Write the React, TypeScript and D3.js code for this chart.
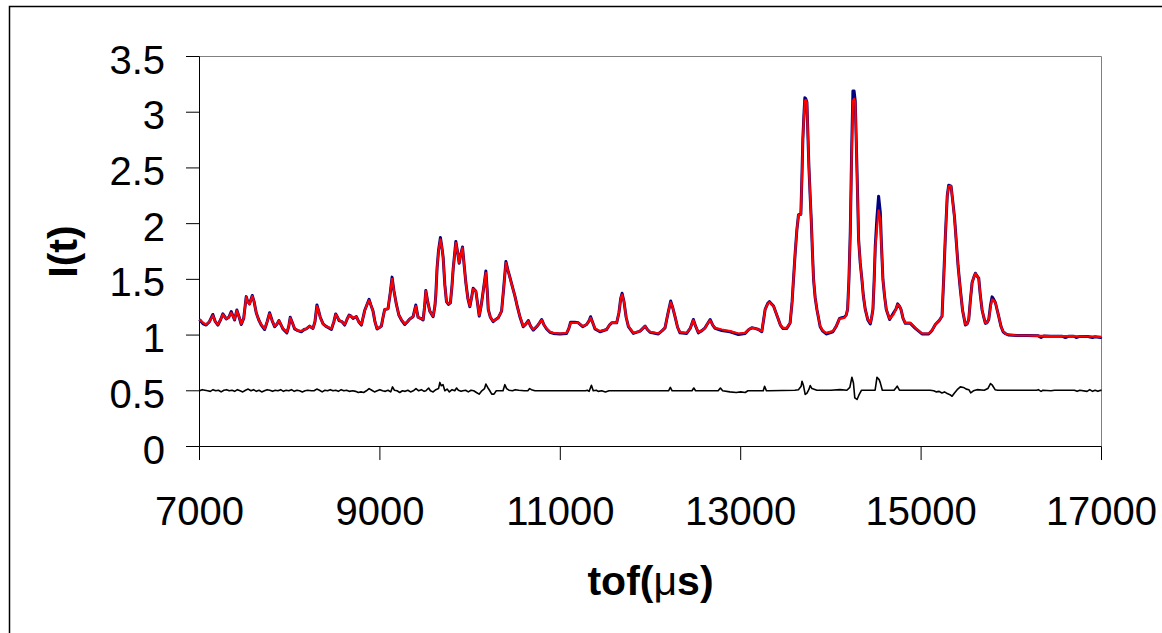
import React from 'react';
import * as d3 from 'd3';

const xTicks = [7000, 9000, 11000, 13000, 15000, 17000];
const yTicks = [0, 0.5, 1, 1.5, 2, 2.5, 3, 3.5];
const yTickLabels = ['0', '0.5', '1', '1.5', '2', '2.5', '3', '3.5'];
const xTitleParts = ['tof(', '\u03bc', 's)'];
const yTitle = 'I(t)';

const tof = [
  7000, 7040, 7074, 7110, 7148, 7175, 7204, 7235, 7259, 7296,
  7325, 7352, 7389, 7414, 7440, 7463, 7490, 7518, 7535, 7555,
  7585, 7605, 7629, 7655, 7685, 7722, 7750, 7777, 7805, 7833,
  7860, 7881, 7905, 7925, 7969, 7990, 8006, 8030, 8055, 8090,
  8129, 8160, 8184, 8221, 8258, 8280, 8302, 8320, 8339, 8370,
  8399, 8430, 8462, 8490, 8510, 8530, 8547, 8580, 8610, 8635,
  8658, 8680, 8702, 8739, 8765, 8795, 8831, 8855, 8880, 8900,
  8924, 8945, 8968, 9000, 9016, 9040, 9053, 9090, 9115, 9135,
  9155, 9183, 9210, 9239, 9276, 9305, 9331, 9368, 9398, 9423,
  9450, 9479, 9495, 9509, 9530, 9553, 9590, 9610, 9620, 9634,
  9650, 9671, 9685, 9701, 9720, 9738, 9760, 9782, 9800, 9812,
  9842, 9860, 9879, 9895, 9916, 9935, 9953, 9975, 9997, 10015,
  10034, 10064, 10085, 10101, 10120, 10138, 10158, 10175, 10190, 10201,
  10225, 10256, 10285, 10312, 10349, 10370, 10397, 10420, 10441, 10470,
  10497, 10525, 10552, 10589, 10620, 10645, 10670, 10700, 10744, 10770,
  10793, 10820, 10848, 10885, 10922, 10996, 11070, 11095, 11114, 11160,
  11200, 11248, 11292, 11320, 11336, 11360, 11385, 11440, 11514, 11545,
  11570, 11625, 11650, 11670, 11685, 11706, 11730, 11755, 11810, 11884,
  11915, 11940, 11965, 11995, 12087, 12130, 12161, 12195, 12224, 12245,
  12272, 12300, 12327, 12401, 12440, 12475, 12500, 12531, 12570, 12605,
  12630, 12661, 12690, 12716, 12790, 12882, 12975, 13049, 13090, 13123,
  13160, 13197, 13234, 13271, 13300, 13319, 13364, 13408, 13440, 13467,
  13511, 13548, 13570, 13585, 13605, 13623, 13641, 13667, 13680, 13689,
  13700, 13711, 13722, 13734, 13745, 13756, 13770, 13782, 13795, 13808,
  13825, 13845, 13881, 13910, 13948, 14022, 14060, 14096, 14120, 14148,
  14170, 14185, 14200, 14215, 14230, 14244, 14257, 14270, 14285, 14300,
  14307, 14325, 14344, 14360, 14381, 14410, 14437, 14450, 14466, 14480,
  14492, 14510, 14529, 14548, 14560, 14577, 14595, 14614, 14651, 14695,
  14720, 14740, 14760, 14777, 14800, 14825, 14881, 14936, 15010, 15084,
  15120, 15158, 15200, 15232, 15250, 15269, 15290, 15306, 15320, 15332,
  15354, 15370, 15391, 15410, 15435, 15460, 15491, 15510, 15528, 15545,
  15565, 15585, 15602, 15620, 15639, 15655, 15676, 15695, 15713, 15730,
  15750, 15770, 15787, 15805, 15824, 15845, 15861, 15885, 15909, 15940,
  15972, 16065, 16175, 16300, 16330, 16360, 16435, 16560, 16600, 16640,
  16694, 16720, 16760, 16850, 16900, 16930, 16990, 17000,
];

const fitted = [
  1.14, 1.11, 1.095, 1.12, 1.176, 1.12, 1.095, 1.14, 1.185, 1.145,
  1.16, 1.20, 1.14, 1.22, 1.16, 1.10, 1.15, 1.34, 1.30, 1.275,
  1.35, 1.30, 1.20, 1.14, 1.095, 1.056, 1.12, 1.193, 1.13, 1.08,
  1.10, 1.13, 1.09, 1.06, 1.026, 1.08, 1.155, 1.11, 1.06, 1.04,
  1.035, 1.05, 1.056, 1.08, 1.06, 1.12, 1.26, 1.22, 1.155, 1.10,
  1.08, 1.07, 1.056, 1.12, 1.185, 1.16, 1.135, 1.12, 1.095, 1.14,
  1.176, 1.17, 1.155, 1.165, 1.12, 1.095, 1.215, 1.27, 1.313, 1.27,
  1.215, 1.12, 1.06, 1.07, 1.08, 1.18, 1.23, 1.235, 1.38, 1.505,
  1.40, 1.275, 1.18, 1.14, 1.10, 1.12, 1.145, 1.165, 1.26, 1.16,
  1.15, 1.14, 1.25, 1.394, 1.30, 1.215, 1.17, 1.26, 1.364, 1.603,
  1.75, 1.858, 1.80, 1.693, 1.45, 1.30, 1.28, 1.29, 1.45, 1.59,
  1.828, 1.75, 1.649, 1.72, 1.783, 1.62, 1.469, 1.33, 1.26, 1.33,
  1.415, 1.394, 1.27, 1.176, 1.25, 1.35, 1.47, 1.559, 1.40, 1.23,
  1.16, 1.125, 1.14, 1.155, 1.215, 1.40, 1.649, 1.58, 1.514, 1.43,
  1.35, 1.25, 1.17, 1.08, 1.10, 1.125, 1.08, 1.05, 1.08, 1.11,
  1.135, 1.09, 1.06, 1.03, 1.02, 1.014, 1.02, 1.06, 1.11, 1.11,
  1.11, 1.08, 1.095, 1.13, 1.155, 1.11, 1.06, 1.035, 1.05, 1.09,
  1.11, 1.11, 1.20, 1.33, 1.364, 1.30, 1.16, 1.08, 1.02, 1.035,
  1.06, 1.08, 1.05, 1.03, 1.014, 1.04, 1.065, 1.20, 1.295, 1.25,
  1.169, 1.07, 1.026, 1.02, 1.06, 1.133, 1.08, 1.026, 1.04, 1.062,
  1.10, 1.133, 1.09, 1.065, 1.05, 1.035, 1.014, 1.02, 1.05, 1.065,
  1.06, 1.05, 1.035, 1.23, 1.28, 1.295, 1.26, 1.163, 1.09, 1.065,
  1.065, 1.109, 1.30, 1.497, 1.75, 1.946, 2.08, 2.08, 2.45, 2.743,
  2.95, 3.10, 3.11, 3.087, 2.80, 2.516, 2.25, 2.037, 1.75, 1.497,
  1.34, 1.23, 1.08, 1.04, 1.02, 1.035, 1.08, 1.146, 1.15, 1.154,
  1.18, 1.23, 1.50, 1.918, 2.60, 3.10, 3.12, 3.087, 2.60, 2.10,
  1.86, 1.65, 1.497, 1.35, 1.23, 1.14, 1.109, 1.15, 1.23, 1.50,
  1.78, 1.95, 2.12, 2.03, 1.80, 1.497, 1.35, 1.23, 1.146, 1.185,
  1.23, 1.274, 1.26, 1.23, 1.15, 1.109, 1.109, 1.065, 1.014, 1.014,
  1.04, 1.095, 1.13, 1.169, 1.50, 1.887, 2.25, 2.336, 2.34, 2.336,
  2.172, 2.05, 1.828, 1.62, 1.409, 1.22, 1.095, 1.10, 1.139, 1.30,
  1.469, 1.52, 1.553, 1.53, 1.51, 1.37, 1.23, 1.16, 1.109, 1.11,
  1.139, 1.25, 1.319, 1.31, 1.29, 1.22, 1.169, 1.08, 1.035, 1.01,
  1.005, 0.996, 0.996, 0.993, 0.993, 0.992, 0.99, 0.99, 0.99, 0.99,
  0.99, 0.988, 0.988, 0.987, 0.986, 0.985, 0.984, 0.984,
];

const measured = [
  1.14, 1.10, 1.09, 1.12, 1.185, 1.12, 1.09, 1.14, 1.19, 1.145,
  1.16, 1.21, 1.135, 1.225, 1.16, 1.095, 1.15, 1.345, 1.30, 1.28,
  1.355, 1.30, 1.20, 1.14, 1.09, 1.05, 1.12, 1.20, 1.13, 1.075,
  1.10, 1.13, 1.09, 1.055, 1.02, 1.08, 1.16, 1.11, 1.055, 1.04,
  1.03, 1.05, 1.056, 1.08, 1.06, 1.12, 1.27, 1.22, 1.16, 1.10,
  1.08, 1.065, 1.05, 1.12, 1.19, 1.16, 1.13, 1.12, 1.09, 1.14,
  1.18, 1.17, 1.15, 1.165, 1.12, 1.09, 1.22, 1.27, 1.32, 1.27,
  1.215, 1.12, 1.055, 1.07, 1.08, 1.18, 1.23, 1.235, 1.38, 1.52,
  1.40, 1.275, 1.18, 1.135, 1.095, 1.12, 1.145, 1.165, 1.27, 1.16,
  1.15, 1.135, 1.25, 1.40, 1.30, 1.215, 1.165, 1.26, 1.364, 1.603,
  1.76, 1.875, 1.80, 1.70, 1.45, 1.30, 1.275, 1.29, 1.45, 1.59,
  1.84, 1.75, 1.645, 1.72, 1.79, 1.62, 1.469, 1.33, 1.255, 1.33,
  1.42, 1.394, 1.27, 1.17, 1.25, 1.35, 1.47, 1.575, 1.40, 1.23,
  1.16, 1.12, 1.14, 1.155, 1.215, 1.40, 1.66, 1.58, 1.52, 1.43,
  1.35, 1.25, 1.165, 1.075, 1.10, 1.13, 1.08, 1.045, 1.08, 1.11,
  1.14, 1.09, 1.055, 1.025, 1.015, 1.01, 1.015, 1.06, 1.115, 1.115,
  1.11, 1.075, 1.095, 1.13, 1.165, 1.11, 1.055, 1.03, 1.05, 1.09,
  1.11, 1.11, 1.20, 1.33, 1.375, 1.30, 1.16, 1.075, 1.015, 1.035,
  1.06, 1.08, 1.05, 1.025, 1.01, 1.04, 1.065, 1.20, 1.305, 1.25,
  1.165, 1.07, 1.02, 1.015, 1.06, 1.14, 1.08, 1.02, 1.04, 1.065,
  1.10, 1.14, 1.09, 1.06, 1.04, 1.03, 1.005, 1.015, 1.05, 1.065,
  1.06, 1.05, 1.03, 1.23, 1.285, 1.30, 1.26, 1.163, 1.09, 1.06,
  1.06, 1.109, 1.30, 1.497, 1.75, 1.946, 2.08, 2.085, 2.46, 2.76,
  2.96, 3.13, 3.12, 3.09, 2.80, 2.516, 2.25, 2.037, 1.75, 1.497,
  1.34, 1.23, 1.075, 1.035, 1.01, 1.03, 1.08, 1.15, 1.155, 1.16,
  1.18, 1.23, 1.50, 1.93, 2.65, 3.19, 3.19, 3.10, 2.62, 2.12,
  1.86, 1.65, 1.497, 1.35, 1.23, 1.135, 1.10, 1.15, 1.23, 1.50,
  1.80, 2.05, 2.246, 2.10, 1.82, 1.497, 1.35, 1.23, 1.14, 1.20,
  1.23, 1.28, 1.26, 1.23, 1.15, 1.105, 1.105, 1.06, 1.01, 1.01,
  1.04, 1.095, 1.13, 1.169, 1.50, 1.887, 2.25, 2.345, 2.34, 2.336,
  2.18, 2.06, 1.83, 1.62, 1.409, 1.22, 1.09, 1.10, 1.139, 1.30,
  1.469, 1.52, 1.555, 1.53, 1.51, 1.37, 1.225, 1.16, 1.105, 1.11,
  1.14, 1.27, 1.343, 1.32, 1.29, 1.22, 1.165, 1.08, 1.03, 1.01,
  1.0, 0.996, 0.996, 0.993, 0.978, 0.992, 0.99, 0.99, 0.978, 0.99,
  0.99, 0.978, 0.988, 0.987, 0.978, 0.985, 0.978, 0.984,
];

const residual: [number, number][] = [
  [7000, 0.50], [7030, 0.51], [7060, 0.505], [7090, 0.50], [7120, 0.495], [7150, 0.51],
  [7180, 0.50], [7210, 0.505], [7240, 0.49], [7270, 0.505], [7300, 0.51], [7330, 0.50],
  [7360, 0.505], [7390, 0.495], [7420, 0.51], [7450, 0.50], [7480, 0.49], [7510, 0.505],
  [7540, 0.515], [7570, 0.50], [7600, 0.51], [7630, 0.495], [7660, 0.505], [7690, 0.49],
  [7720, 0.50], [7750, 0.51], [7780, 0.505], [7810, 0.495], [7840, 0.505], [7870, 0.50],
  [7900, 0.51], [7930, 0.495], [7960, 0.505], [7990, 0.50], [8020, 0.51], [8050, 0.495],
  [8080, 0.505], [8110, 0.50], [8140, 0.49], [8170, 0.50], [8200, 0.505], [8240, 0.50],
  [8270, 0.50], [8300, 0.515], [8330, 0.505], [8360, 0.49], [8390, 0.505], [8420, 0.50],
  [8450, 0.51], [8480, 0.50], [8510, 0.505], [8540, 0.495], [8570, 0.51], [8600, 0.50],
  [8630, 0.505], [8660, 0.495], [8700, 0.50], [8730, 0.495], [8760, 0.485], [8790, 0.49],
  [8820, 0.485], [8850, 0.50], [8880, 0.52], [8910, 0.505], [8940, 0.49], [8970, 0.50],
  [9000, 0.51], [9030, 0.50], [9060, 0.495], [9090, 0.505], [9120, 0.49], [9140, 0.535],
  [9160, 0.505], [9190, 0.50], [9220, 0.485], [9250, 0.50], [9280, 0.495], [9310, 0.505],
  [9340, 0.49], [9370, 0.50], [9400, 0.52], [9430, 0.50], [9460, 0.51], [9490, 0.495],
  [9510, 0.50], [9540, 0.525], [9560, 0.50], [9590, 0.49], [9620, 0.51], [9650, 0.52],
  [9665, 0.575], [9680, 0.545], [9700, 0.555], [9720, 0.50], [9745, 0.515], [9770, 0.49],
  [9800, 0.51], [9830, 0.50], [9850, 0.525], [9870, 0.505], [9900, 0.495], [9920, 0.50],
  [9950, 0.505], [9980, 0.49], [10010, 0.505], [10040, 0.50], [10070, 0.485], [10100, 0.47],
  [10130, 0.50], [10160, 0.52], [10175, 0.56], [10195, 0.53], [10215, 0.505], [10240, 0.47],
  [10265, 0.47], [10290, 0.50], [10330, 0.50], [10365, 0.50], [10385, 0.555], [10405, 0.52],
  [10430, 0.505], [10470, 0.50], [10500, 0.51], [10540, 0.505], [10600, 0.50], [10640, 0.50],
  [10660, 0.52], [10680, 0.51], [10720, 0.50], [10800, 0.50], [11280, 0.50], [11300, 0.505],
  [11320, 0.495], [11345, 0.55], [11365, 0.50], [11400, 0.505], [11420, 0.495], [11460, 0.50],
  [11500, 0.49], [11540, 0.50], [12200, 0.50], [12220, 0.53], [12240, 0.50], [12460, 0.50],
  [12480, 0.525], [12500, 0.50], [12750, 0.50], [12775, 0.525], [12800, 0.50], [12880, 0.49],
  [12950, 0.485], [13000, 0.49], [13050, 0.485], [13080, 0.50], [13250, 0.50], [13265, 0.54],
  [13285, 0.50], [13310, 0.50], [13600, 0.505], [13640, 0.51], [13670, 0.54], [13680, 0.586],
  [13695, 0.55], [13715, 0.467], [13735, 0.48], [13755, 0.51], [13771, 0.547], [13790, 0.52],
  [13845, 0.505], [14000, 0.505], [14100, 0.51], [14177, 0.505], [14210, 0.53], [14233, 0.622],
  [14250, 0.57], [14265, 0.437], [14290, 0.422], [14310, 0.46], [14340, 0.505], [14490, 0.505],
  [14500, 0.56], [14511, 0.622], [14535, 0.60], [14548, 0.571], [14570, 0.505], [14700, 0.505],
  [14720, 0.525], [14735, 0.541], [14760, 0.505], [15100, 0.505], [15140, 0.50], [15170, 0.49],
  [15200, 0.495], [15230, 0.48], [15260, 0.49], [15290, 0.475], [15320, 0.465], [15343, 0.451],
  [15370, 0.48], [15400, 0.51], [15435, 0.535], [15470, 0.53], [15500, 0.515], [15530, 0.51],
  [15550, 0.482], [15580, 0.50], [15620, 0.51], [15700, 0.505], [15740, 0.52], [15769, 0.565],
  [15790, 0.55], [15820, 0.51], [15850, 0.505], [16280, 0.505], [16300, 0.51], [16330, 0.495],
  [16350, 0.505], [16440, 0.50], [16480, 0.505], [16700, 0.505], [16730, 0.495], [16760, 0.505],
  [16840, 0.495], [16870, 0.51], [16900, 0.495], [16930, 0.505], [16960, 0.495], [16990, 0.505],
  [17000, 0.50],
];

const FONT = '"Liberation Sans", Arial, Helvetica, sans-serif';

export default function App() {
  const x = d3.scaleLinear().domain([7000, 17000]).range([199.5, 1101.5]);
  const y = d3.scaleLinear().domain([0, 3.5]).range([446.5, 56.5]);
  const line = d3.line<[number, number]>().x((d) => x(d[0])).y((d) => y(d[1]));
  const measPts = tof.map((t, i) => [t, measured[i]] as [number, number]);
  const fitPts = tof.map((t, i) => [t, fitted[i]] as [number, number]);
  const [x0, x1] = x.range();
  const [yb, yt] = y.range();

  return (
    <svg width={1162} height={633} style={{ position: 'absolute', left: 0, top: 0, background: '#fff' }} fontFamily={FONT}>
      <rect x={0} y={0} width={1162} height={633} fill="#fff" />
      <rect x={9.5} y={6.5} width={1300} height={800} fill="none" stroke="#000" strokeWidth={1.5} />
      <line x1={x0} x2={x1} y1={yt} y2={yt} stroke="#808080" strokeWidth={1} />
      <line x1={x1} x2={x1} y1={yt} y2={yb} stroke="#808080" strokeWidth={1} />
      <line x1={x0} x2={x0} y1={yt} y2={yb} stroke="#000" strokeWidth={1} />
      <line x1={x0} x2={x1} y1={yb} y2={yb} stroke="#000" strokeWidth={1} />
      {yTicks.map((v, i) => (
        <g key={'y' + v}>
          <line x1={186} x2={x0} y1={y(v)} y2={y(v)} stroke="#000" strokeWidth={1} />
          <text x={165} y={y(v) + 17} textAnchor="end" fontSize={40} fill="#000">{yTickLabels[i]}</text>
        </g>
      ))}
      {xTicks.map((v) => (
        <g key={'x' + v}>
          <line x1={x(v)} x2={x(v)} y1={yb} y2={460} stroke="#000" strokeWidth={1} />
          <text x={x(v)} y={525} textAnchor="middle" fontSize={40} fill="#000">{String(v)}</text>
        </g>
      ))}
      <path d={line(measPts) || ''} fill="none" stroke="#000080" strokeWidth={3} strokeLinejoin="round" />
      <path d={line(fitPts) || ''} fill="none" stroke="#ff0000" strokeWidth={2.2} strokeLinejoin="round" />
      <path d={line(residual) || ''} fill="none" stroke="#000" strokeWidth={1.6} strokeLinejoin="round" />
      <text x={(x0 + x1) / 2} y={595} textAnchor="middle" fontSize={41} fontWeight="bold" fill="#000">
        {xTitleParts[0]}
        <tspan fontWeight="normal">{xTitleParts[1]}</tspan>
        {xTitleParts[2]}
      </text>
      <text transform={`translate(77, ${(yt + yb) / 2}) rotate(-90)`} textAnchor="middle" fontSize={41} fontWeight="bold" fill="#000">{yTitle}</text>
    </svg>
  );
}
